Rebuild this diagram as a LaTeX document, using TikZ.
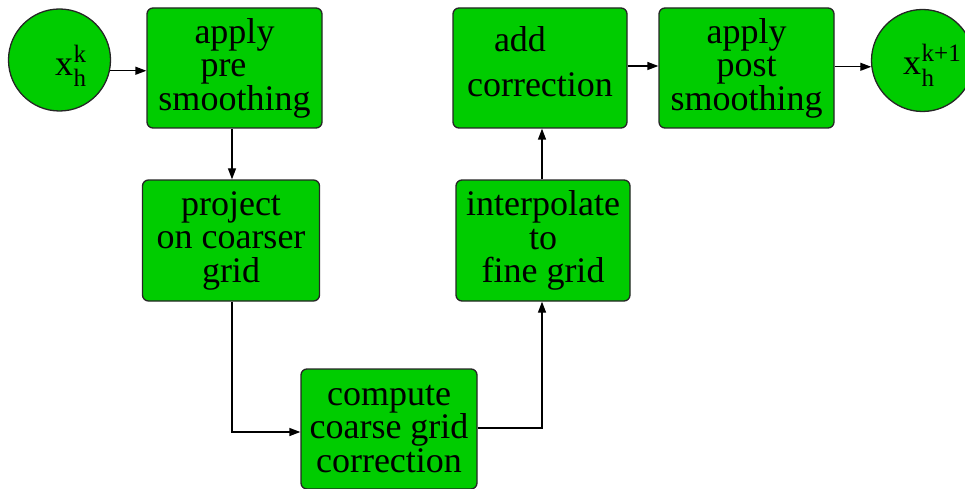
\documentclass[tikz,border=0pt]{standalone}
\usepackage{fontspec}
\setmainfont{Liberation Serif}
\usetikzlibrary{arrows.meta}
\definecolor{nodegreen}{HTML}{00CC00}
\newcommand{\scr}{\fontsize{25}{25}\selectfont}
\tikzset{
  boxtext/.style={inner sep=0pt, align=center, font=\rmfamily\fontsize{36}{33.5}\selectfont},
  box/.style={boxtext, draw=black!85, line width=1.3pt, fill=nodegreen, rounded corners=6pt,
    minimum width=175pt, minimum height=120pt},
  circ/.style={circle, draw=black!85, line width=1.3pt, fill=nodegreen,
    minimum size=102pt, inner sep=0pt},
  lbl/.style={anchor=base west, inner sep=0pt, font=\rmfamily\fontsize{36}{36}\selectfont},
  arr/.style={line width=1.3pt, -{Triangle[length=11pt,width=8pt]}}
}
\begin{document}
\begin{tikzpicture}[x=1pt,y=-1pt]
\useasboundingbox (0,0) rectangle (965,489);
% iterate and its subscripted label
\node[circ] (xin) at (59.5,60) {};
\node[lbl] (xinlbl) at (55,76) {x\kern0.5pt\rlap{\raisebox{13pt}{\scr k}}\raisebox{-11pt}{\scr h}};
\node[circ] (xout) at (922.5,60.5) {};
\node[lbl] (xoutlbl) at (903,75) {x\kern0.5pt\rlap{\raisebox{13pt}{\scr k+1}}\raisebox{-12pt}{\scr h}};
% processing steps
\node[box] (pre) at (234.5,68) {apply\\\makebox[68pt][l]{pre}\\smoothing};
\node[box, minimum width=177pt, minimum height=121pt] (proj) at (231,240.5) {project\\on coarser\\grid};
\node[box, minimum width=176pt] (comp) at (389,429) {compute\\coarse grid\\correction};
\node[box, minimum width=174pt, minimum height=121pt] (interp) at (543,240.5) {interpolate\\to\\fine grid};
\node[box, minimum width=174pt] (add) at (540,68) {};
\node[boxtext] (addtext) at (540,62) {\makebox[92pt][l]{add}\\[11.5pt]correction};
\node[box] (post) at (746.5,68) {apply\\post\\smoothing};
% connectors
\draw[arr] (xin.-12) -- (xin.-12 -| pre.west);
\draw[arr] ([xshift=-2.5pt]pre.south) -- ([xshift=-2.5pt]pre.south |- proj.north);
\draw[arr] ([xshift=1pt]proj.south) |- ([yshift=-3pt]comp.west);
\draw[arr] ([yshift=1pt]comp.east) -| ([xshift=-1pt]interp.south);
\draw[arr] ([xshift=-1pt]interp.north) -- ([xshift=-1pt]interp.north |- add.south);
\draw[arr] ([yshift=2pt]add.east) -- ([yshift=2pt]post.west);
\draw[arr] (post.east |- xout.187) -- (xout.187);
\end{tikzpicture}
\end{document}
